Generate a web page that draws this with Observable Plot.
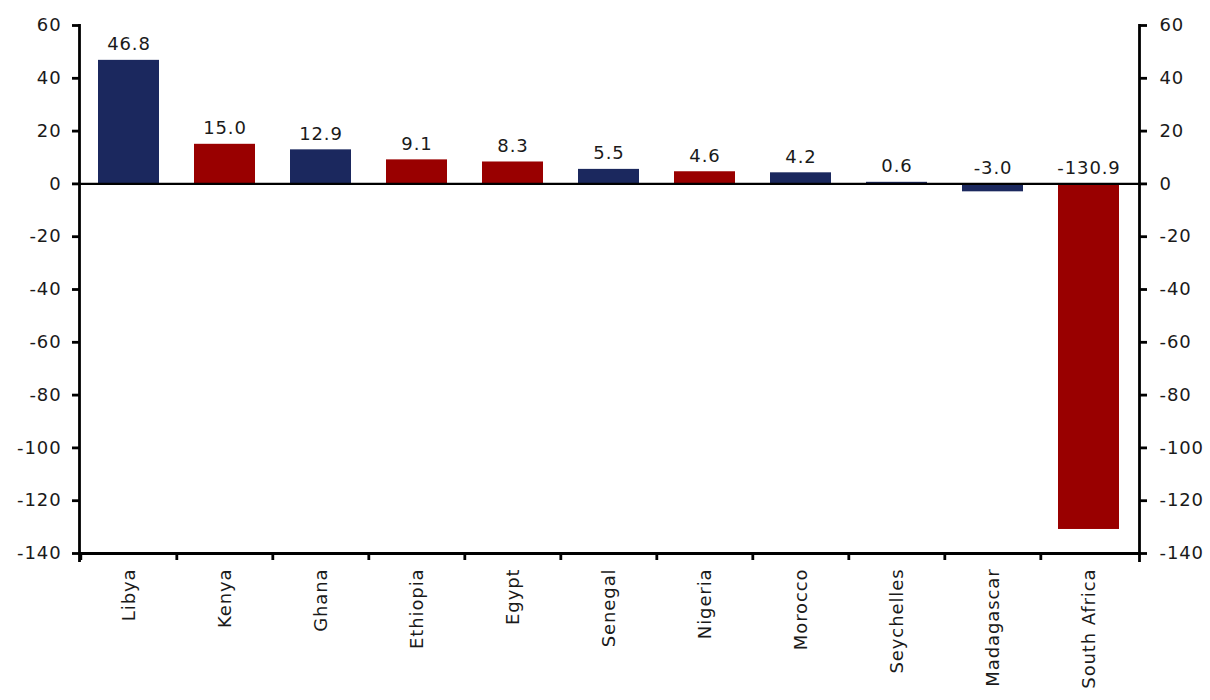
<!DOCTYPE html>
<html><head><meta charset="utf-8">
<script src="https://cdn.jsdelivr.net/npm/d3@7"></script>
<script src="https://cdn.jsdelivr.net/npm/@observablehq/plot@0.6"></script>
<style>
  body { margin: 0; background: #fff; }
  #chart svg { overflow: visible; }
</style>
</head><body><div id="chart"></div><script>
// Change by country (values shown above each bar)
const countries = ["Libya", "Kenya", "Ghana", "Ethiopia", "Egypt", "Senegal", "Nigeria", "Morocco", "Seychelles", "Madagascar", "South Africa"];
const values = [46.8, 15.0, 12.9, 9.1, 8.3, 5.5, 4.6, 4.2, 0.6, -3.0, -130.9];
const groups = ["A", "B", "A", "B", "B", "A", "B", "A", "A", "A", "B"];
const yTicks = [60, 40, 20, 0, -20, -40, -60, -80, -100, -120, -140];

const data = countries.map((c, i) => ({country: c, value: values[i], group: groups[i]}));

const width = 1210, height = 700;
const marginLeft = 79, marginRight = 71, marginTop = 25, marginBottom = 147;
// band step (padding outer = half of inner, so step = plot width / n)
const step = (width - marginLeft - marginRight) / countries.length;

const font = {fontFamily: "DejaVu Sans", fontSize: "18px", color: "#1a1a1a", letterSpacing: "0.9px"};

const chart = Plot.plot({
  width, height, marginLeft, marginRight, marginTop, marginBottom,
  style: font,
  x: {domain: countries, paddingInner: 0.36, paddingOuter: 0.18, align: 0.5},
  y: {domain: [-140, 60]},
  color: {domain: ["A", "B"], range: ["#1b285e", "#990000"]},
  marks: [
    Plot.barY(data, {x: "country", y: "value", fill: "group"}),
    Plot.ruleY([0], {stroke: "#000", strokeWidth: 2.4}),
    Plot.frame({anchor: "left", stroke: "#000", strokeWidth: 2.8, insetBottom: -7}),
    Plot.frame({anchor: "right", stroke: "#000", strokeWidth: 2.8, insetBottom: -7}),
    Plot.frame({anchor: "bottom", stroke: "#000", strokeWidth: 2.8}),
    Plot.axisY({anchor: "left", ticks: yTicks, tickSize: 7, tickPadding: 11, strokeWidth: 2.8, stroke: "#000", label: null, tickFormat: d => d}),
    Plot.axisY({anchor: "right", ticks: yTicks, tickSize: 7, tickPadding: 13, strokeWidth: 2.8, stroke: "#000", label: null, tickFormat: d => d}),
    // category boundary ticks below the axis
    Plot.axisX({anchor: "bottom", tickSize: 7, dx: -step / 2, strokeWidth: 2.8, stroke: "#000", tickFormat: () => "", label: null}),
    Plot.axisX({anchor: "bottom", tickSize: 0, tickPadding: 15, tickRotate: -90, label: null}),
    Plot.text(data, {x: "country", y: d => Math.max(0, d.value), text: d => d.value.toFixed(1), dy: -16, fill: "#1a1a1a"})
  ]
});
document.getElementById("chart").appendChild(chart);
</script></body></html>
